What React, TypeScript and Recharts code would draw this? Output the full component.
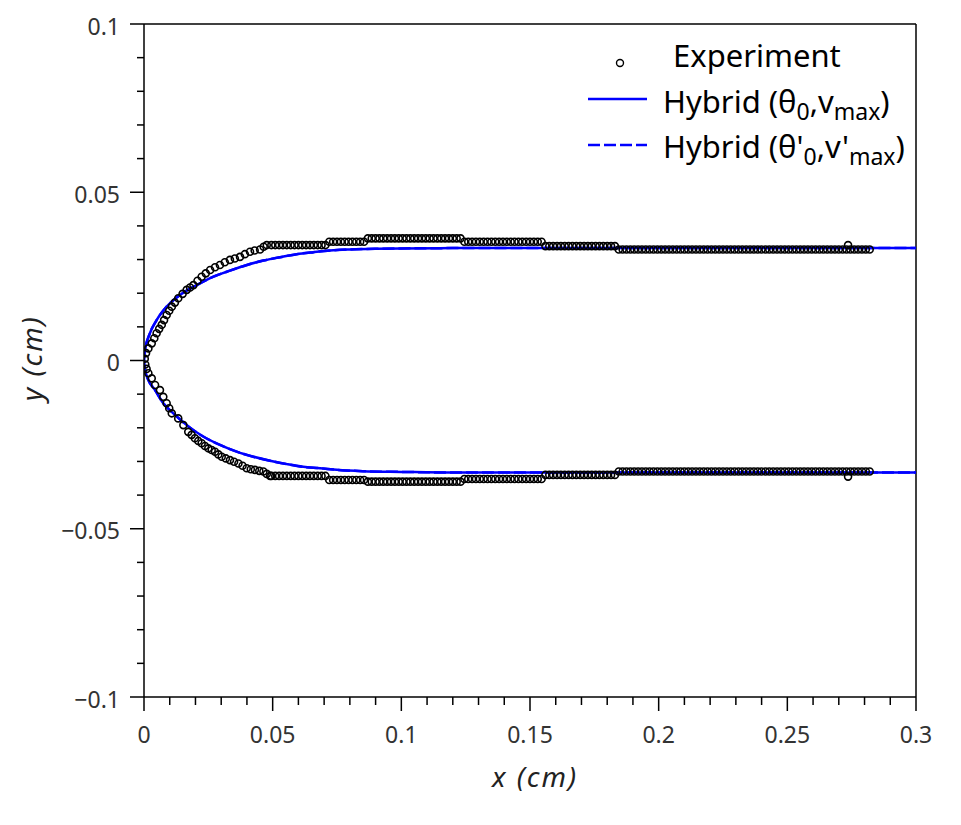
import React from "react";
import {
  ComposedChart,
  Line,
  Scatter,
  XAxis,
  YAxis,
  ReferenceLine,
} from "recharts";

// Experiment: the two edges near the origin (x in cm, y in cm)
const upperCurveX = [
  0.0003, 0.0008, 0.0017, 0.003, 0.004, 0.0049, 0.0059, 0.0069, 0.0078, 0.0088,
  0.0098, 0.0108, 0.012, 0.0133, 0.015, 0.0166, 0.0179, 0.0192, 0.0208, 0.0224,
  0.024, 0.0257, 0.0276, 0.0295, 0.0314, 0.0334, 0.0353, 0.0373, 0.0392, 0.0412,
  0.043, 0.0451, 0.0465, 0.0477,
];
const upperCurveY = [
  0.0005, 0.0022, 0.0036, 0.0051, 0.0066, 0.0081, 0.0094, 0.0106, 0.012, 0.0135,
  0.0148, 0.016, 0.0172, 0.0185, 0.0198, 0.021, 0.0217, 0.0224, 0.0237, 0.0249,
  0.0259, 0.0269, 0.0277, 0.0284, 0.0292, 0.0299, 0.0303, 0.0308, 0.0316, 0.0323,
  0.0327, 0.033, 0.0338, 0.0343,
];
const lowerCurveX = [
  0.0005, 0.001, 0.0017, 0.003, 0.0043, 0.0062, 0.0075, 0.0088, 0.0098, 0.0108,
  0.0133, 0.0153, 0.0172, 0.0185, 0.0198, 0.0211, 0.0224, 0.0237, 0.025, 0.0263,
  0.0276, 0.0289, 0.0302, 0.0318, 0.0334, 0.035, 0.0367, 0.0383, 0.0399, 0.0415,
  0.0431, 0.0448, 0.0464, 0.0477, 0.049,
];
const lowerCurveY = [
  -0.0012, -0.0025, -0.0038, -0.0053, -0.0073, -0.0088, -0.0108, -0.0127, -0.0142,
  -0.0157, -0.0172, -0.0192, -0.0212, -0.0221, -0.0231, -0.0239, -0.0246, -0.0254,
  -0.0261, -0.0266, -0.0271, -0.0279, -0.0286, -0.0291, -0.0296, -0.0301, -0.0306,
  -0.0313, -0.032, -0.0323, -0.0325, -0.0328, -0.033, -0.0337, -0.0343,
];

// Experiment: sample positions along the flat part of the edges
const plateauX = [
  0.0495, 0.051, 0.0525, 0.054, 0.0555, 0.057, 0.0585, 0.06, 0.0615, 0.063,
  0.0645, 0.066, 0.0675, 0.069, 0.0705, 0.072, 0.0735, 0.075, 0.0765, 0.078,
  0.0795, 0.081, 0.0825, 0.084, 0.0855, 0.087, 0.0885, 0.09, 0.0915, 0.093,
  0.0945, 0.096, 0.0975, 0.099, 0.1005, 0.102, 0.1035, 0.105, 0.1065, 0.108,
  0.1095, 0.111, 0.1125, 0.114, 0.1155, 0.117, 0.1185, 0.12, 0.1215, 0.123,
  0.1245, 0.126, 0.1275, 0.129, 0.1305, 0.132, 0.1335, 0.135, 0.1365, 0.138,
  0.1395, 0.141, 0.1425, 0.144, 0.1455, 0.147, 0.1485, 0.15, 0.1515, 0.153,
  0.1545, 0.156, 0.1575, 0.159, 0.1605, 0.162, 0.1635, 0.165, 0.1665, 0.168,
  0.1695, 0.171, 0.1725, 0.174, 0.1755, 0.177, 0.1785, 0.18, 0.1815, 0.183,
  0.1845, 0.186, 0.1875, 0.189, 0.1905, 0.192, 0.1935, 0.195, 0.1965, 0.198,
  0.1995, 0.201, 0.2025, 0.204, 0.2055, 0.207, 0.2085, 0.21, 0.2115, 0.213,
  0.2145, 0.216, 0.2175, 0.219, 0.2205, 0.222, 0.2235, 0.225, 0.2265, 0.228,
  0.2295, 0.231, 0.2325, 0.234, 0.2355, 0.237, 0.2385, 0.24, 0.2415, 0.243,
  0.2445, 0.246, 0.2475, 0.249, 0.2505, 0.252, 0.2535, 0.255, 0.2565, 0.258,
  0.2595, 0.261, 0.2625, 0.264, 0.2655, 0.267, 0.2685, 0.27, 0.2715, 0.273,
  0.2745, 0.276, 0.2775, 0.279, 0.2805, 0.282,
];

// measured edge levels on the flat part (steps of the pixel grid)
const upperLevels = [
  { from: 0.048, to: 0.072, y: 0.0343 },
  { from: 0.072, to: 0.087, y: 0.0353 },
  { from: 0.087, to: 0.124, y: 0.0363 },
  { from: 0.124, to: 0.156, y: 0.0353 },
  { from: 0.156, to: 0.184, y: 0.034 },
  { from: 0.184, to: 0.29, y: 0.033 },
];
const lowerLevels = [
  { from: 0.048, to: 0.072, y: -0.0343 },
  { from: 0.072, to: 0.087, y: -0.0355 },
  { from: 0.087, to: 0.124, y: -0.036 },
  { from: 0.124, to: 0.156, y: -0.0352 },
  { from: 0.156, to: 0.184, y: -0.034 },
  { from: 0.184, to: 0.29, y: -0.033 },
];
const strayPoints = [
  { x: 0.2736, y: 0.0343 },
  { x: 0.2736, y: -0.0345 },
];

// Hybrid model fits
const upperFitX = [
  0, 0.0001, 0.0004, 0.0023, 0.0049, 0.0088, 0.014, 0.0205, 0.027, 0.0334, 0.04,
  0.0464, 0.0529, 0.0593, 0.0658, 0.0723, 0.08, 0.09, 0.1, 0.12, 0.3,
];
const upperFitY = [
  0, 0.0015, 0.0031, 0.0081, 0.012, 0.016, 0.0195, 0.0224, 0.0249, 0.0267, 0.0284,
  0.0297, 0.0307, 0.0316, 0.0322, 0.0327, 0.033, 0.0332, 0.0333, 0.0334, 0.0334,
];
const lowerFitX = [
  0, 0.0001, 0.0004, 0.0017, 0.0043, 0.0075, 0.0114, 0.0166, 0.023, 0.0295, 0.036,
  0.0425, 0.049, 0.0555, 0.0619, 0.0684, 0.075, 0.085, 0.1, 0.12, 0.3,
];
const lowerFitY = [
  0, -0.0013, -0.0027, -0.0058, -0.0088, -0.0127, -0.0157, -0.0192, -0.0226,
  -0.0251, -0.0271, -0.0286, -0.0298, -0.0308, -0.0316, -0.032, -0.0325, -0.0329,
  -0.0331, -0.0333, -0.0333,
];

const xTicks = [
  0, 0.01, 0.02, 0.03, 0.04, 0.05, 0.06, 0.07, 0.08, 0.09, 0.1, 0.11, 0.12, 0.13,
  0.14, 0.15, 0.16, 0.17, 0.18, 0.19, 0.2, 0.21, 0.22, 0.23, 0.24, 0.25, 0.26,
  0.27, 0.28, 0.29, 0.3,
];
const yTicks = [
  -0.1, -0.09, -0.08, -0.07, -0.06, -0.05, -0.04, -0.03, -0.02, -0.01, 0, 0.01,
  0.02, 0.03, 0.04, 0.05, 0.06, 0.07, 0.08, 0.09, 0.1,
];

const FONT = "'Noto Sans', sans-serif";
const BLUE = "#0000ff";

const zip = (xs: number[], ys: number[]) => xs.map((x, i) => ({ x, y: ys[i] }));
const levelAt = (levels: { from: number; to: number; y: number }[], x: number) =>
  levels.find((l) => x >= l.from && x < l.to)!.y;

const experiment = [
  ...zip(upperCurveX, upperCurveY),
  ...plateauX.map((x) => ({ x, y: levelAt(upperLevels, x) })),
  ...zip(lowerCurveX, lowerCurveY),
  ...plateauX.map((x) => ({ x, y: levelAt(lowerLevels, x) })),
  ...strayPoints,
];
const upperFit = zip(upperFitX, upperFitY);
const lowerFit = zip(lowerFitX, lowerFitY);

const isMajor = (v: number) => Math.abs(v * 20 - Math.round(v * 20)) < 1e-6;
const fmt = (v: number) => (v === 0 ? "0" : String(v).replace("-", "\u2212"));

const XTick = ({ x, y, payload }: any) => {
  const major = isMajor(payload.value);
  return (
    <g>
      <line x1={x} x2={x} y1={y} y2={y + (major ? 14 : 8)} stroke="#000" strokeWidth={1.5} />
      {major && (
        <text x={x} y={y + 46} textAnchor="middle" fontSize={23} fill="#333" fontFamily={FONT}>
          {fmt(payload.value)}
        </text>
      )}
    </g>
  );
};

const YTick = ({ x, y, payload }: any) => {
  const major = isMajor(payload.value);
  return (
    <g>
      <line x1={x - (major ? 14 : 7)} x2={x} y1={y} y2={y} stroke="#000" strokeWidth={1.5} />
      {major && (
        <text x={x - 24} y={y + 10.5} textAnchor="end" fontSize={23} fill="#333" fontFamily={FONT}>
          {fmt(payload.value)}
        </text>
      )}
    </g>
  );
};

const Ring = (props: any) => (
  <circle cx={props.cx} cy={props.cy} r={3.5} fill="none" stroke="#000" strokeWidth={1.6} />
);

const Sub = ({ children }: { children: React.ReactNode }) => (
  <tspan fontSize={23} dy={7}>{children}</tspan>
);

const Legend = () => (
  <svg
    width={945}
    height={810}
    style={{ position: "absolute", left: 0, top: 0, pointerEvents: "none" }}
    fontFamily={FONT}
  >
    <circle cx={612} cy={55} r={3.5} fill="none" stroke="#000" strokeWidth={1.4} />
    <text x={665} y={59} fontSize={31} fill="#000">Experiment</text>

    <line x1={580} x2={639} y1={91} y2={91} stroke={BLUE} strokeWidth={2.5} />
    <text x={655} y={105} fontSize={31} fill="#000">
      Hybrid (θ<Sub>0</Sub>
      <tspan dy={-7}>,v</tspan>
      <Sub>max</Sub>
      <tspan dy={-7}>)</tspan>
    </text>

    <line x1={580} x2={639} y1={137} y2={137} stroke={BLUE} strokeWidth={2.5} strokeDasharray="12 4" />
    <text x={655} y={150} fontSize={31} fill="#000">
      Hybrid (θ'<Sub>0</Sub>
      <tspan dy={-7}>,v'</tspan>
      <Sub>max</Sub>
      <tspan dy={-7}>)</tspan>
    </text>

    <text x={527} y={779} textAnchor="middle" fontSize={28} fontStyle="italic" letterSpacing={2} fill="#222">
      x (cm)
    </text>
    <text
      x={34}
      y={350}
      textAnchor="middle"
      fontSize={28}
      fontStyle="italic"
      letterSpacing={2}
      fill="#222"
      transform="rotate(-90, 34, 350)"
    >
      y (cm)
    </text>
  </svg>
);

export default function App() {
  return (
    <div style={{ position: "relative", width: 945, height: 810 }}>
      <ComposedChart
        width={945}
        height={810}
        margin={{ top: 16, right: 37, left: 36, bottom: 41 }}
      >
        <XAxis
          dataKey="x"
          type="number"
          domain={[0, 0.3]}
          ticks={xTicks}
          interval={0}
          height={80}
          tickSize={0}
          tickMargin={0}
          tickLine={false}
          axisLine={{ stroke: "#000", strokeWidth: 1.5 }}
          tick={<XTick />}
          allowDataOverflow
        />
        <YAxis
          dataKey="y"
          type="number"
          domain={[-0.1, 0.1]}
          ticks={yTicks}
          interval={0}
          width={100}
          tickSize={0}
          tickMargin={0}
          tickLine={false}
          axisLine={{ stroke: "#000", strokeWidth: 1.5 }}
          tick={<YTick />}
          allowDataOverflow
        />
        <ReferenceLine y={0.1} stroke="#000" strokeWidth={1.5} />
        <ReferenceLine x={0.3} stroke="#000" strokeWidth={1.5} />

        <Line data={upperFit} dataKey="y" type="monotone" stroke={BLUE} strokeWidth={2.5} dot={false} isAnimationActive={false} />
        <Line data={lowerFit} dataKey="y" type="monotone" stroke={BLUE} strokeWidth={2.5} dot={false} isAnimationActive={false} />
        <Line data={upperFit} dataKey="y" type="monotone" stroke={BLUE} strokeWidth={2.5} strokeDasharray="12 4" dot={false} isAnimationActive={false} />
        <Line data={lowerFit} dataKey="y" type="monotone" stroke={BLUE} strokeWidth={2.5} strokeDasharray="12 4" dot={false} isAnimationActive={false} />

        <Scatter data={experiment} dataKey="y" shape={<Ring />} isAnimationActive={false} />
      </ComposedChart>
      <Legend />
    </div>
  );
}
